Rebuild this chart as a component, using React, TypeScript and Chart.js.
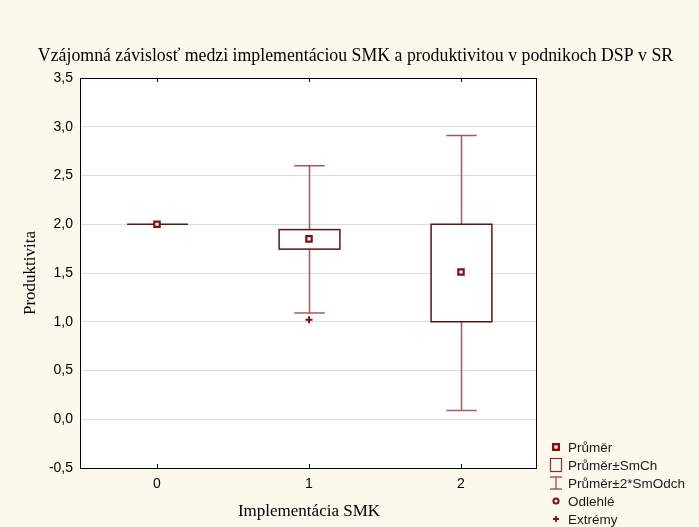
import React, { useEffect, useRef } from 'react';
import { Chart, registerables } from 'chart.js';

Chart.register(...registerables);

// ---- data ----
const categories = ['0', '1', '2'];
const means = [2.0, 1.85, 1.51];
const seLow = [2.0, 1.745, 1.0];
const seHigh = [2.0, 1.945, 2.0];
const sdLow = [2.0, 1.09, 0.09];
const sdHigh = [2.0, 2.6, 2.91];
const extremes = [null, 1.02, null];
const yMin = -0.5;
const yMax = 3.5;
const yStep = 0.5;
const legendLabels = ['Průměr', 'Průměr±SmCh', 'Průměr±2*SmOdch', 'Odlehlé', 'Extrémy'];
const chartTitle = 'Vzájomná závislosť medzi implementáciou SMK a produktivitou v podnikoch DSP v SR';
const xTitle = 'Implementácia SMK';
const yTitle = 'Produktivita';

// ---- styles ----
const BG = '#fdf8ec';
const MEAN_C = '#8b0a0a';
const BOX_C = '#5a1414';
const WHISK_C = '#a85858';
const SERIF = '"Liberation Serif", "Times New Roman", serif';
const SANS = '"Liberation Sans", Arial, sans-serif';

const boxPlugin = {
  id: 'boxPlot',
  beforeDraw(chart: any) {
    const { ctx, chartArea: a } = chart;
    ctx.save();
    ctx.fillStyle = '#ffffff';
    ctx.fillRect(a.left, a.top, a.right - a.left, a.bottom - a.top);
    ctx.restore();
  },
  beforeDatasetsDraw(chart: any) {
    const { ctx, scales } = chart;
    const x = scales.x;
    const y = scales.y;
    const step = x.getPixelForValue(1) - x.getPixelForValue(0);
    const half = step * 0.2;
    const capHalf = step * 0.1;
    ctx.save();
    categories.forEach((_, i) => {
      const cx = Math.round(x.getPixelForValue(i)) + 0.5;
      const yTop = y.getPixelForValue(seHigh[i]);
      const yBot = y.getPixelForValue(seLow[i]);
      const yHi = y.getPixelForValue(sdHigh[i]);
      const yLo = y.getPixelForValue(sdLow[i]);
      ctx.strokeStyle = WHISK_C;
      ctx.lineWidth = 1.5;
      if (yTop - yHi > 0.5) {
        ctx.beginPath();
        ctx.moveTo(cx, yTop);
        ctx.lineTo(cx, yHi);
        ctx.moveTo(cx - capHalf, yHi);
        ctx.lineTo(cx + capHalf, yHi);
        ctx.stroke();
      }
      if (yLo - yBot > 0.5) {
        ctx.beginPath();
        ctx.moveTo(cx, yBot);
        ctx.lineTo(cx, yLo);
        ctx.moveTo(cx - capHalf, yLo);
        ctx.lineTo(cx + capHalf, yLo);
        ctx.stroke();
      }
      ctx.strokeStyle = BOX_C;
      ctx.lineWidth = 1.5;
      if (yBot - yTop < 1) {
        ctx.beginPath();
        ctx.moveTo(cx - half, yTop);
        ctx.lineTo(cx + half, yTop);
        ctx.stroke();
      } else {
        ctx.fillStyle = '#ffffff';
        ctx.fillRect(cx - half, yTop, half * 2, yBot - yTop);
        ctx.strokeRect(cx - half, yTop, half * 2, yBot - yTop);
      }
    });
    ctx.restore();
  },
  afterDraw(chart: any) {
    const { ctx, chartArea: a, scales, width } = chart;
    const x = scales.x;
    ctx.save();
    // title across the whole canvas
    ctx.fillStyle = '#000000';
    ctx.font = `17.8px ${SERIF}`;
    ctx.textAlign = 'center';
    ctx.textBaseline = 'alphabetic';
    ctx.fillText(chartTitle, width / 2 + 6, a.top - 17);

    // frame
    ctx.strokeStyle = '#000000';
    ctx.lineWidth = 1;
    ctx.strokeRect(a.left - 0.5, a.top + 0.5, a.right - a.left, a.bottom - a.top);
    // inward tick marks for categories
    ctx.beginPath();
    categories.forEach((_, i) => {
      const px = Math.round(x.getPixelForValue(i)) + 0.5;
      ctx.moveTo(px, a.top);
      ctx.lineTo(px, a.top + 4);
      ctx.moveTo(px, a.bottom);
      ctx.lineTo(px, a.bottom - 4);
    });
    ctx.stroke();

    // legend
    const lx = a.right + 19;
    const tx = a.right + 31;
    const y0 = a.bottom - 21;
    const gap = 18;
    ctx.font = `13.5px ${SANS}`;
    ctx.textBaseline = 'middle';
    ctx.textAlign = 'left';
    legendLabels.forEach((lab, k) => {
      const ly = y0 + k * gap;
      ctx.fillStyle = '#1a1a1a';
      ctx.fillText(lab, tx, ly + 1);
      if (k === 0) {
        ctx.strokeStyle = MEAN_C;
        ctx.lineWidth = 2.4;
        ctx.fillStyle = '#fff';
        ctx.fillRect(lx - 2.8, ly - 2.8, 5.6, 5.6);
        ctx.strokeRect(lx - 2.8, ly - 2.8, 5.6, 5.6);
      } else if (k === 1) {
        ctx.strokeStyle = '#7a3434';
        ctx.lineWidth = 1.2;
        ctx.strokeRect(lx - 5.5, ly - 6.5, 11, 13);
      } else if (k === 2) {
        ctx.strokeStyle = WHISK_C;
        ctx.lineWidth = 1.4;
        ctx.beginPath();
        ctx.moveTo(lx - 6, ly - 6);
        ctx.lineTo(lx + 6, ly - 6);
        ctx.moveTo(lx, ly - 6);
        ctx.lineTo(lx, ly + 6);
        ctx.moveTo(lx - 6, ly + 6);
        ctx.lineTo(lx + 6, ly + 6);
        ctx.stroke();
      } else if (k === 3) {
        ctx.strokeStyle = MEAN_C;
        ctx.lineWidth = 2;
        ctx.fillStyle = '#fff';
        ctx.beginPath();
        ctx.arc(lx, ly, 2.6, 0, Math.PI * 2);
        ctx.fill();
        ctx.stroke();
      } else {
        ctx.strokeStyle = MEAN_C;
        ctx.lineWidth = 1.8;
        ctx.beginPath();
        ctx.moveTo(lx - 3, ly);
        ctx.lineTo(lx + 3, ly);
        ctx.moveTo(lx, ly - 3);
        ctx.lineTo(lx, ly + 3);
        ctx.stroke();
      }
    });
    ctx.restore();
  },
};

export default function App() {
  const ref = useRef<HTMLCanvasElement | null>(null);

  useEffect(() => {
    document.body.style.margin = '0';
    document.body.style.background = BG;
    const canvas = ref.current;
    if (!canvas) return;
    const chart = new Chart(canvas, {
      type: 'line',
      data: {
        labels: categories,
        datasets: [
          {
            label: 'Průměr',
            data: means,
            showLine: false,
            pointStyle: 'rect',
            pointRadius: 3.8,
            pointBorderWidth: 2.2,
            borderColor: MEAN_C,
            backgroundColor: '#ffffff',
            pointBackgroundColor: '#ffffff',
          },
          {
            label: 'Extrémy',
            data: extremes,
            showLine: false,
            pointStyle: 'cross',
            pointRadius: 3.5,
            pointBorderWidth: 2,
            borderColor: MEAN_C,
            backgroundColor: MEAN_C,
          },
        ],
      },
      options: {
        animation: false,
        responsive: true,
        maintainAspectRatio: false,
        layout: { padding: { left: 0, right: 162, top: 78, bottom: 0 } },
        plugins: {
          legend: { display: false },
          tooltip: { enabled: false },
          title: { display: false },
        },
        scales: {
          x: {
            type: 'category',
            offset: true,
            grid: { display: false, drawTicks: false },
            border: { display: false },
            ticks: { color: '#000000', font: { family: SANS, size: 14 }, padding: 8 },
            title: {
              display: true,
              text: xTitle,
              color: '#000000',
              font: { family: SERIF, size: 17, weight: 'normal' },
              padding: { top: 0, bottom: 5 },
            },
            afterFit: (s: any) => {
              s.height = 59;
            },
          },
          y: {
            min: yMin,
            max: yMax,
            grid: { color: '#dcdcdc', lineWidth: 1, drawTicks: false },
            border: { display: false },
            ticks: {
              stepSize: yStep,
              color: '#000000',
              font: { family: SANS, size: 14 },
              padding: 8,
              callback: (v: any) => Number(v).toFixed(1).replace('.', ','),
            },
            title: {
              display: true,
              text: yTitle,
              color: '#000000',
              font: { family: SERIF, size: 17, weight: 'normal' },
              padding: { top: 20, bottom: 0 },
            },
            afterFit: (s: any) => {
              s.width = 81;
            },
          },
        },
      },
      plugins: [boxPlugin],
    } as any);
    return () => chart.destroy();
  }, []);

  return (
    <div style={{ width: 699, height: 527, position: 'relative', background: BG }}>
      <canvas ref={ref} />
    </div>
  );
}
